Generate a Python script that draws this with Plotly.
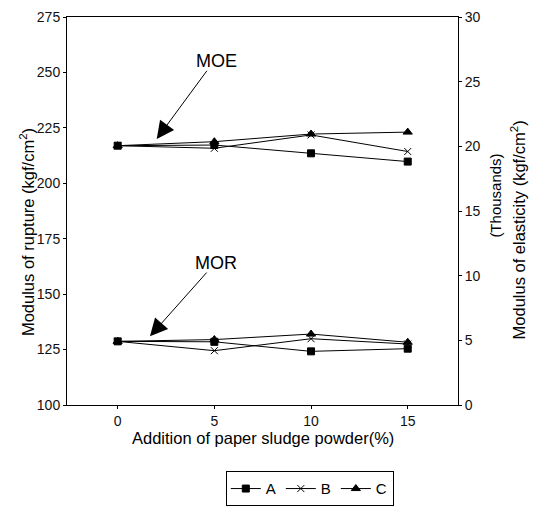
import plotly.graph_objects as go

x_vals = [0, 5, 10, 15]
series_names = ["A", "B", "C"]

# Modulus of rupture (left axis, kgf/cm2)
mor_A = [128.7, 128.5, 124.2, 125.4]
mor_B = [128.7, 124.5, 129.9, 127.5]
mor_C = [128.7, 129.5, 132.0, 128.3]

# Modulus of elasticity (right axis, thousands kgf/cm2)
moe_A = [20.05, 20.1, 19.46, 18.82]
moe_B = [20.05, 19.85, 20.88, 19.6]
moe_C = [20.05, 20.36, 20.95, 21.1]

left_ticks = [100, 125, 150, 175, 200, 225, 250, 275]
right_ticks = [0, 5, 10, 15, 20, 25, 30]
x_ticks = [0, 5, 10, 15]

FONT = "Liberation Sans, Arial, sans-serif"
TICKFONT = dict(family=FONT, size=14, color="#111")
TITLEFONT = dict(family=FONT, size=16.5, color="black")

styles = {
    "A": dict(symbol="square", size=7, color="black", line=dict(color="black", width=1)),
    "B": dict(symbol="x-thin", size=7, color="black", line=dict(color="black", width=1)),
    "C": dict(symbol="triangle-up", size=8, color="black", line=dict(color="black", width=1)),
}

fig = go.Figure()
mor = {"A": mor_A, "B": mor_B, "C": mor_C}
moe = {"A": moe_A, "B": moe_B, "C": moe_C}
for n in series_names:
    fig.add_trace(go.Scatter(x=x_vals, y=mor[n], name=n, mode="lines+markers",
                             line=dict(color="black", width=1), marker=styles[n],
                             showlegend=True, legendgroup=n, yaxis="y"))
for n in series_names:
    fig.add_trace(go.Scatter(x=x_vals, y=moe[n], name=n, mode="lines+markers",
                             line=dict(color="black", width=1), marker=styles[n],
                             showlegend=False, legendgroup=n, yaxis="y2"))

axis_common = dict(showgrid=False, zeroline=False, showline=True, linecolor="black",
                   linewidth=1, ticks="outside", ticklen=3, tickcolor="black",
                   tickfont=TICKFONT, automargin=False, ticklabeloverflow="allow")

# page body has an 8px default margin, so the figure is sized to fit the window
fig.update_layout(
    width=529, height=524,
    margin=dict(l=59, r=79, t=9, b=127, autoexpand=False),
    paper_bgcolor="white", plot_bgcolor="white",
    font=dict(family=FONT, size=15, color="black"),
    xaxis=dict(range=[-2.62, 17.6], tickvals=x_ticks, mirror=True, **axis_common),
    yaxis=dict(range=[100, 275], tickvals=left_ticks, **axis_common),
    yaxis2=dict(range=[0, 30], tickvals=right_ticks, overlaying="y", side="right",
                **axis_common),
    legend=dict(orientation="h", x=0.621, xanchor="center", y=-0.216, yanchor="middle",
                bordercolor="black", borderwidth=1, bgcolor="white",
                font=dict(family=FONT, size=15), itemwidth=30, tracegroupgap=0),
    annotations=[
        dict(x=0.5, y=0, xref="paper", yref="paper", yshift=-33, yanchor="middle",
             text="Addition of paper sludge powder(%)", showarrow=False, font=TITLEFONT),
        dict(x=-0.102, y=0.446, xref="paper", yref="paper", textangle=-90,
             text="Modulus of rupture (kgf/cm<sup>2</sup>)", showarrow=False,
             xanchor="center", yanchor="middle", font=TITLEFONT),
        dict(x=1.095, y=0.54, xref="paper", yref="paper", textangle=-90,
             text="(Thousands)", showarrow=False, xanchor="center", yanchor="middle",
             font=dict(family=FONT, size=15, color="black")),
        dict(x=1.153, y=0.452, xref="paper", yref="paper", textangle=-90,
             text="Modulus of elasticity (kgf/cm<sup>2</sup>)", showarrow=False,
             xanchor="center", yanchor="middle", font=TITLEFONT),
        dict(x=2.02, y=220.0, xref="x", yref="y", ax=4.67, ay=251.4, axref="x", ayref="y",
             text="", showarrow=True, arrowhead=2, arrowsize=3.5, arrowwidth=1,
             arrowcolor="black"),
        dict(x=5.12, y=255.2, xref="x", yref="y", text="MOE", showarrow=False,
             font=dict(family=FONT, size=18)),
        dict(x=1.67, y=131.0, xref="x", yref="y", ax=4.67, ay=160.4, axref="x", ayref="y",
             text="", showarrow=True, arrowhead=2, arrowsize=3.5, arrowwidth=1,
             arrowcolor="black"),
        dict(x=5.1, y=164.0, xref="x", yref="y", text="MOR", showarrow=False,
             font=dict(family=FONT, size=18)),
    ],
)

fig.write_html("out.html")
